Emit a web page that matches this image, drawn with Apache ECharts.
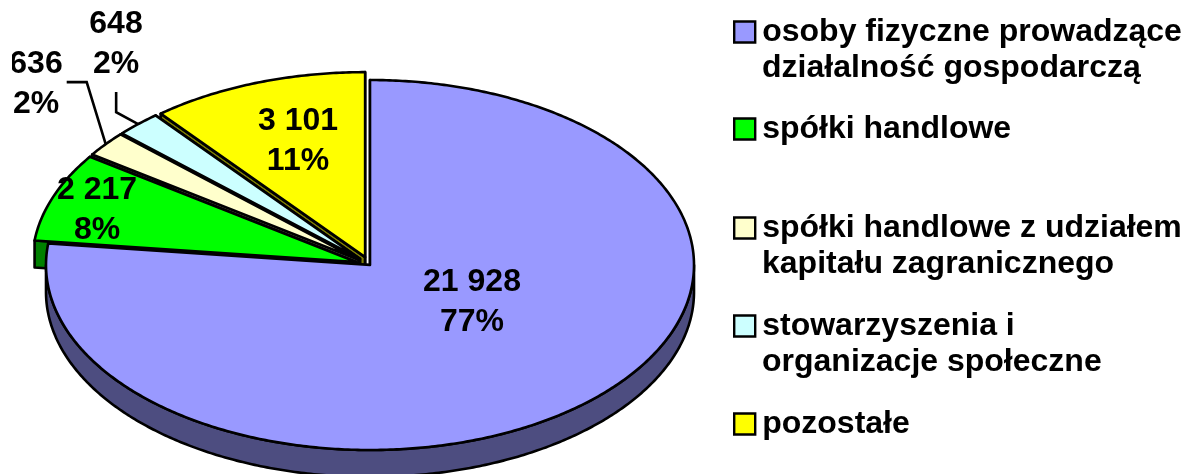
<!DOCTYPE html>
<html><head><meta charset="utf-8">
<style>html,body{margin:0;padding:0;background:#fff}#c{width:1187px;height:474px}</style>
<script src="https://cdn.jsdelivr.net/npm/echarts@6/dist/echarts.min.js"></script>
</head><body><div id="c"></div>
<script>
// --- data ---
const categories = ['osoby fizyczne prowadzące działalność gospodarczą','spółki handlowe','spółki handlowe z udziałem kapitału zagranicznego','stowarzyszenia i organizacje społeczne','pozostałe'];
const legendFirstLines = ['osoby fizyczne prowadzące','spółki handlowe','spółki handlowe z udziałem','stowarzyszenia i','pozostałe'];
const legendSecondLines = ['działalność gospodarczą','','kapitału zagranicznego','organizacje społeczne',''];
const values = [21928,2217,636,648,3101];
const valueLabels = ['21 928','2 217','636','648','3 101'];
const percentLabels = ['77%','8%','2%','2%','11%'];
const explodes = [0,0.045,0.045,0.045,0.045];
// --- styles ---
const topColors = ['#9999FF','#00FF00','#FFFFCC','#CCFFFF','#FFFF00'];
const wallColors = ['#4D4D80','#008000','#808066','#668080','#808000'];
const FONT = 'bold 32px "Liberation Sans", Arial, sans-serif';
const CX=370, CY=265, RX=324, RY=185, DEPTH=27, STROKE=2.6;
const labelCentres = [[472,302],[97,210],[36,84],[116,44],[298,141]];
const leaders = [null,null,[[-19,-62],[-39,-62]],[[-22,-12],[-22,-32]],null];
const legendY = [34,131,230,328,426];
const LINE_H = 40;

const total = values.reduce((a,b)=>a+b,0);
let acc = 0;
const spans = values.map(v=>{const s=acc/total*Math.PI*2; acc+=v; return [s,acc/total*Math.PI*2];});

function pt(t,ox,oy,dy){return [CX+ox+RX*Math.sin(t), CY+oy+(dy||0)-RY*Math.cos(t)];}

function renderSlice(i){
  return function(params,api){
    const [a,b]=spans[i]; const m=(a+b)/2, e=explodes[i];
    const ox=e*RX*Math.sin(m), oy=-e*RY*Math.cos(m);
    const apex=[CX+ox,CY+oy], apexD=[apex[0],apex[1]+DEPTH];
    const arc=[]; const n=Math.max(4,Math.ceil((b-a)/0.01));
    for(let k=0;k<=n;k++){arc.push(pt(a+(b-a)*k/n,ox,oy));}
    const wallStyle={fill:wallColors[i],stroke:'#000',lineWidth:STROKE,lineJoin:'round'};
    const kids=[
      {type:'polygon',shape:{points:[apex,arc[0],[arc[0][0],arc[0][1]+DEPTH],apexD]},style:wallStyle},
      {type:'polygon',shape:{points:[apex,arc[n],[arc[n][0],arc[n][1]+DEPTH],apexD]},style:wallStyle}
    ];
    // the outer rim only faces the viewer on the front half of the ellipse
    const f0=Math.max(a,Math.PI/2), f1=Math.min(b,Math.PI*1.5);
    if(f1>f0){
      const front=[],frontD=[]; const nf=Math.ceil((f1-f0)/0.01);
      for(let k=0;k<=nf;k++){const t=f0+(f1-f0)*k/nf; front.push(pt(t,ox,oy)); frontD.push(pt(t,ox,oy,DEPTH));}
      kids.push({type:'polygon',shape:{points:front.concat(frontD.reverse())},style:wallStyle});
    }
    kids.push({type:'polygon',shape:{points:[apex].concat(arc)},style:{fill:topColors[i],stroke:'#000',lineWidth:STROKE,lineJoin:'round'}});
    return {type:'group',children:kids};
  };
}
function renderLabels(params,api){
  const i=params.dataIndex; const kids=[];
  const [a,b]=spans[i]; const m=(a+b)/2, e=explodes[i];
  if(leaders[i]){
    const end=pt(m,e*RX*Math.sin(m),-e*RY*Math.cos(m));
    const pts=[end].concat(leaders[i].map(o=>[end[0]+o[0],end[1]+o[1]]));
    kids.push({type:'polyline',shape:{points:pts},style:{fill:null,stroke:'#000',lineWidth:STROKE}});
  }
  const c=labelCentres[i];
  kids.push({type:'text',x:c[0],y:c[1],
    clipPath:{type:'rect',shape:{x:12-c[0],y:-200,width:1200,height:400}},
    style:{text:valueLabels[i]+'\n'+percentLabels[i],font:FONT,fill:'#000',align:'center',verticalAlign:'middle',lineHeight:LINE_H}});
  return {type:'group',children:kids};
}

const series=[];
for(let i=values.length-1;i>=0;i--){
  series.push({type:'custom',name:categories[i],coordinateSystem:'none',silent:true,animation:false,clip:false,
    itemStyle:{color:topColors[i]},data:[[values[i]]],renderItem:renderSlice(i),z:2});
}
series.push({type:'custom',name:'etykiety',coordinateSystem:'none',silent:true,animation:false,z:5,
  data:values.map(v=>[v]),renderItem:renderLabels});

const legends=categories.map((name,i)=>({
  left:733,top:legendY[i]-18,orient:'vertical',selectedMode:false,icon:'rect',itemWidth:21,itemHeight:21,
  formatter:()=>legendFirstLines[i],
  textStyle:{fontFamily:'"Liberation Sans", Arial, sans-serif',fontWeight:'bold',fontSize:32,color:'#000',padding:[0,0,0,2]},
  padding:0,
  data:[{name,icon:'rect',itemStyle:{color:topColors[i],borderColor:'#000',borderWidth:2.4}}]
}));
const graphicEls=legendSecondLines.map((t,i)=>t?{type:'text',left:762,top:legendY[i]+18,
  style:{text:t,font:FONT,fill:'#000'}}:null).filter(Boolean);

const chart=echarts.init(document.getElementById('c'),null,{renderer:'canvas'});
chart.setOption({animation:false,backgroundColor:'#fff',legend:legends,series,graphic:graphicEls});
</script></body></html>
